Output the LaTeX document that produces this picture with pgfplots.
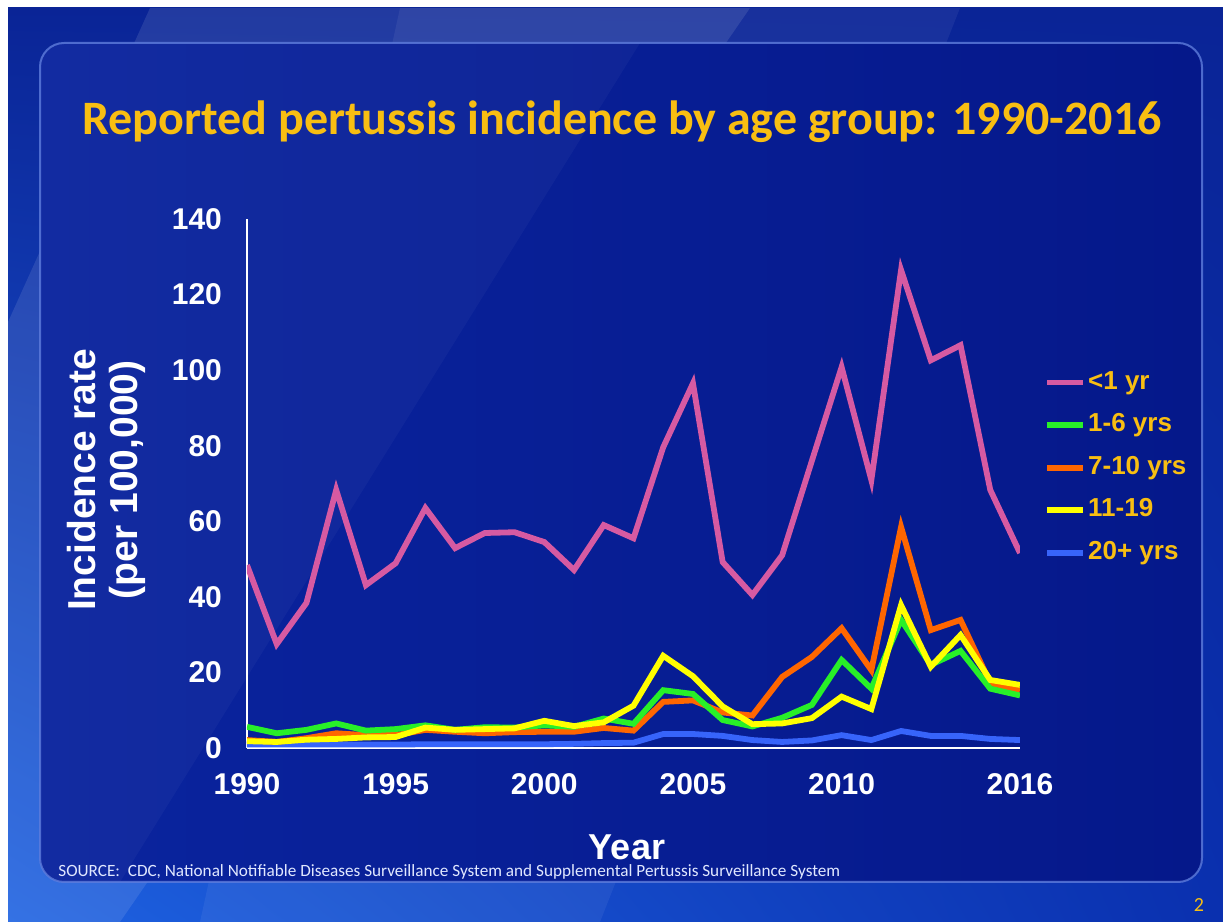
\documentclass[border=0pt]{standalone}
\usepackage{pgfplots}
\usepackage{pgfplotstable}
\pgfplotsset{compat=1.18}
\usetikzlibrary{shadings}
\usepackage{fontspec}
\setmainfont{Liberation Sans}
\newfontfamily\calibri{Carlito}
\definecolor{gold}{RGB}{248,190,18}
\definecolor{pinkc}{RGB}{214,90,162}
\definecolor{greenc}{RGB}{40,240,40}
\definecolor{orangec}{RGB}{255,102,0}
\definecolor{yellowc}{RGB}{255,255,0}
\definecolor{bluec}{RGB}{55,100,250}
\definecolor{bgA}{RGB}{10,36,150}
\definecolor{bgB}{RGB}{22,86,216}
\definecolor{bgC}{RGB}{30,98,225}
\definecolor{bgD}{RGB}{10,48,175}
\definecolor{panelL}{RGB}{10,36,158}
\definecolor{panelR}{RGB}{5,24,138}
\definecolor{panelB}{RGB}{95,125,220}

\pgfplotstableread{
year lt1   a16  a710 a1119 a20
1990 48.4  5.6  2.1  1.8  0.9
1991 27.5  3.9  1.6  1.6  0.9
1992 38.4  4.8  2.6  2.2  0.9
1993 68.3  6.5  3.9  2.4  0.9
1994 43.1  4.6  3.4  2.8  0.9
1995 48.9  5.0  3.4  2.9  0.9
1996 63.5  6.0  4.8  5.4  1.0
1997 52.9  4.8  4.3  4.8  1.0
1998 56.9  5.5  3.9  5.0  1.0
1999 57.1  5.4  4.2  5.2  1.0
2000 54.5  6.0  4.3  7.2  1.0
2001 47.1  5.6  4.3  5.8  1.1
2002 59.0  7.8  5.3  6.8  1.3
2003 55.5  6.4  4.6  11.2 1.4
2004 79.6  15.3 12.2 24.4 3.7
2005 96.5  14.3 12.6 19.0 3.7
2006 49.2  7.4  9.4  11.0 3.2
2007 40.5  5.7  8.6  6.3  2.1
2008 51.0  8.0  18.8 6.5  1.6
2009 76.0  11.4 24.1 7.9  2.0
2010 100.8 23.3 31.7 13.6 3.4
2011 70.9  15.7 20.6 10.3 2.1
2012 126.5 33.9 58.5 37.8 4.5
2013 102.6 22.0 31.2 21.5 3.2
2014 106.6 25.7 33.9 29.9 3.2
2015 68.3  15.7 17.2 18.0 2.4
2016 51.6  13.9 15.3 16.7 2.1
}\datatable

\begin{document}
\begin{tikzpicture}
\useasboundingbox (0,0) rectangle (611.5pt,461pt);
\fill[white] (0,0) rectangle (611.5pt,461pt);
% slide background
\shade[upper left=bgA, upper right=bgA, lower left=bgC, lower right=bgD] (4pt,0pt) rectangle (611.5pt,457pt);
\fill[white, opacity=0.10] (75pt,457pt) -- (375pt,457pt) -- (60pt,0pt) -- (4pt,0pt) -- (4pt,300pt) -- cycle;
\fill[white, opacity=0.06] (200pt,457pt) -- (480pt,457pt) -- (300pt,0pt) -- (100pt,0pt) -- cycle;
% panel
\shade[rounded corners=12pt, left color=panelL, right color=panelR] (20pt,20pt) rectangle (601pt,439.5pt);
\begin{scope}
\clip[rounded corners=12pt] (20pt,20pt) rectangle (601pt,439.5pt);
\fill[white, opacity=0.035] (20pt,439.5pt) -- (320pt,439.5pt) -- (60pt,20pt) -- (20pt,20pt) -- cycle;
\end{scope}
\draw[rounded corners=12pt, line width=1pt, panelB, opacity=0.8] (20pt,20pt) rectangle (601pt,439.5pt);
% title
\node[font=\calibri\bfseries\fontsize{24}{28}\selectfont, text=gold] at (311pt,400pt) {Reported pertussis incidence by age group: 1990-2016};

\begin{axis}[
  at={(123.5pt,87pt)}, anchor=south west,
  scale only axis, width=386.5pt, height=264.5pt,
  xmin=1990, xmax=2016, ymin=0, ymax=140,
  axis x line=bottom, axis y line=left,
  axis line style={-, draw=white, line width=0.8pt},
  xtick={1990,1995,2000,2005,2010,2016},
  ytick={0,20,40,60,80,100,120,140},
  major tick length=0pt, tick style={draw=none},
  ticklabel style={font=\bfseries\fontsize{15}{15}\selectfont, text=white},
  xticklabel style={yshift=-9pt},
  yticklabel style={xshift=-9pt},
  /pgf/number format/.cd, 1000 sep={}, assume math mode=true, /pgfplots/.cd,
  xlabel={Year},
  xlabel style={at={(axis description cs:0.4916,-0.187)}, anchor=center, font=\bfseries\fontsize{18}{18}\selectfont, text=white},
  ylabel={Incidence rate\\(per 100,000)},
  ylabel style={at={(axis description cs:-0.182,0.507)}, anchor=center, align=center, font=\bfseries\fontsize{19.5}{21}\selectfont, text=white},
  legend image code/.code={\draw[#1] (0pt,0pt) -- (18pt,0pt);},
  legend style={at={(axis description cs:1.031,0.715)}, anchor=north west, draw=none, fill=none,
    inner sep=0pt, row sep=9pt, font=\bfseries\fontsize{13}{13}\selectfont, text=gold,
    nodes={text height=9.5pt, text depth=2.8pt, inner ysep=0pt, inner xsep=1pt}},
  legend cell align=left,
]
\addplot[bluec, line width=2.9pt, forget plot] table[x=year, y=a20] {\datatable};
\addplot[orangec, line width=2.9pt, forget plot] table[x=year, y=a710] {\datatable};
\addplot[greenc, line width=2.9pt, forget plot] table[x=year, y=a16] {\datatable};
\addplot[yellowc, line width=2.9pt, forget plot] table[x=year, y=a1119] {\datatable};
\addplot[pinkc, line width=2.9pt, forget plot] table[x=year, y=lt1] {\datatable};
\addlegendimage{pinkc, line width=2.9pt}
\addlegendentry{<1 yr}
\addlegendimage{greenc, line width=2.9pt}
\addlegendentry{1-6 yrs}
\addlegendimage{orangec, line width=2.9pt}
\addlegendentry{7-10 yrs}
\addlegendimage{yellowc, line width=2.9pt}
\addlegendentry{11-19}
\addlegendimage{bluec, line width=2.9pt}
\addlegendentry{20+ yrs}
\end{axis}

\node[anchor=west, inner sep=0pt, font=\calibri\fontsize{8.6}{9}\selectfont, text={rgb,255:red,225;green,232;blue,255}] at (29pt,25pt) {SOURCE:\ \ CDC, National Notifiable Diseases Surveillance System and Supplemental Pertussis Surveillance System};
\node[font=\calibri\fontsize{10}{10}\selectfont, text=gold] at (599.5pt,8.5pt) {2};
\end{tikzpicture}
\end{document}
